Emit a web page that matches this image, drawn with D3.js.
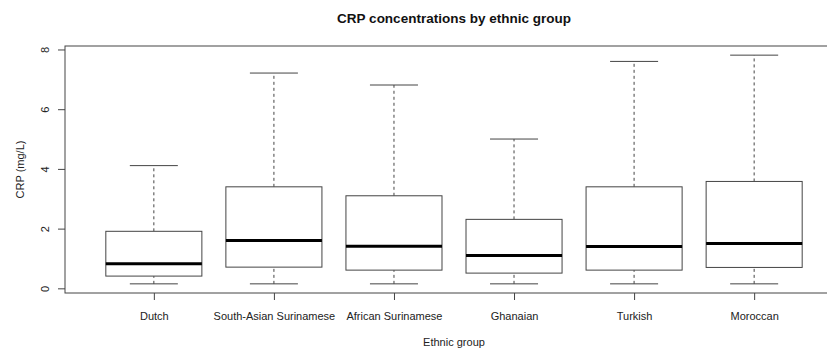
<!DOCTYPE html>
<html>
<head>
<meta charset="utf-8">
<script src="https://cdn.jsdelivr.net/npm/d3@7/dist/d3.min.js"></script>
<style>
  html, body { margin: 0; padding: 0; background: #fff; }
  svg { display: block; font-family: "Liberation Sans", Arial, sans-serif; }
</style>
</head>
<body>
<svg id="chart" width="827" height="348"></svg>
<script>
// Ethnic groups shown along the x axis
const groups = ["Dutch", "South-Asian Surinamese", "African Surinamese", "Ghanaian", "Turkish", "Moroccan"];
// Five-number summaries per group (mg/L)
const whiskerLow  = [0.15, 0.15, 0.15, 0.15, 0.15, 0.15];
const quartile1   = [0.41, 0.71, 0.61, 0.51, 0.61, 0.70];
const medians     = [0.82, 1.60, 1.41, 1.10, 1.40, 1.50];
const quartile3   = [1.91, 3.40, 3.10, 2.31, 3.40, 3.58];
const whiskerHigh = [4.11, 7.21, 6.81, 5.00, 7.60, 7.81];
const yTicks = [0, 2, 4, 6, 8];

const svg = d3.select("#chart");
const ink = "#444";

const plot = { left: 65, right: 843, top: 46, bottom: 293 };

// Group positions 1..n, with the usual 4% padding around 0.5..n+0.5
const n = groups.length;
const xPad = 0.04 * n;
const x = d3.scaleLinear()
  .domain([0.5 - xPad, n + 0.5 + xPad])
  .range([plot.left, plot.right]);

const yMin = d3.min(whiskerLow), yMax = d3.max(whiskerHigh);
const yPad = 0.04 * (yMax - yMin);
const y = d3.scaleLinear()
  .domain([yMin - yPad, yMax + yPad])
  .range([plot.bottom, plot.top]);

const boxW = x(1.4) - x(1);      // half of 0.8 box width
const capW = x(1.2) - x(1);      // half of 0.4 staple width

const data = groups.map((g, i) => ({
  name: g, pos: i + 1,
  lo: whiskerLow[i], q1: quartile1[i], med: medians[i], q3: quartile3[i], hi: whiskerHigh[i]
}));

const boxes = svg.append("g").selectAll("g").data(data).join("g");

// dashed whiskers
boxes.append("line")
  .attr("x1", d => x(d.pos)).attr("x2", d => x(d.pos))
  .attr("y1", d => y(d.q3)).attr("y2", d => y(d.hi))
  .attr("stroke", ink).attr("stroke-dasharray", "3,3");
boxes.append("line")
  .attr("x1", d => x(d.pos)).attr("x2", d => x(d.pos))
  .attr("y1", d => y(d.lo)).attr("y2", d => y(d.q1))
  .attr("stroke", ink).attr("stroke-dasharray", "3,3");

// staples
boxes.append("line")
  .attr("x1", d => x(d.pos) - capW).attr("x2", d => x(d.pos) + capW)
  .attr("y1", d => y(d.hi)).attr("y2", d => y(d.hi))
  .attr("stroke", ink);
boxes.append("line")
  .attr("x1", d => x(d.pos) - capW).attr("x2", d => x(d.pos) + capW)
  .attr("y1", d => y(d.lo)).attr("y2", d => y(d.lo))
  .attr("stroke", ink);

// interquartile boxes
boxes.append("rect")
  .attr("x", d => x(d.pos) - boxW).attr("width", 2 * boxW)
  .attr("y", d => y(d.q3)).attr("height", d => y(d.q1) - y(d.q3))
  .attr("fill", "#fff").attr("stroke", ink);

// medians
boxes.append("line")
  .attr("x1", d => x(d.pos) - boxW).attr("x2", d => x(d.pos) + boxW)
  .attr("y1", d => y(d.med)).attr("y2", d => y(d.med))
  .attr("stroke", "#000").attr("stroke-width", 3);

// frame around the plotting region
svg.append("rect")
  .attr("x", plot.left).attr("y", plot.top)
  .attr("width", plot.right - plot.left).attr("height", plot.bottom - plot.top)
  .attr("fill", "none").attr("stroke", ink);

// y axis: short outside ticks, labels parallel to the axis
const yAxis = svg.append("g").attr("transform", `translate(${plot.left},0)`)
  .call(d3.axisLeft(y).tickValues(yTicks).tickSize(7).tickPadding(0).tickFormat(d3.format("d")));
yAxis.select(".domain").remove();
yAxis.selectAll(".tick line").attr("stroke", ink);
yAxis.selectAll(".tick text")
  .attr("x", null).attr("dy", null)
  .attr("text-anchor", "middle")
  .attr("transform", "translate(-20,0) rotate(-90)")
  .attr("dy", "0.35em")
  .attr("font-size", 11).attr("fill", "#222")
  .style("font-family", "'Liberation Sans', Arial, sans-serif");

// x axis: ticks at each group
const xAxis = svg.append("g").attr("transform", `translate(0,${plot.bottom})`)
  .call(d3.axisBottom(x).tickValues(data.map(d => d.pos)).tickSize(7).tickPadding(12)
    .tickFormat((d, i) => groups[i]));
xAxis.select(".domain").remove();
xAxis.selectAll(".tick line").attr("stroke", ink);
xAxis.selectAll(".tick text")
  .attr("font-size", 11).attr("fill", "#222")
  .style("font-family", "'Liberation Sans', Arial, sans-serif");

// title and axis titles
const midX = (plot.left + plot.right) / 2;
svg.append("text")
  .attr("x", midX).attr("y", 23)
  .attr("text-anchor", "middle")
  .attr("font-size", 13.5).attr("font-weight", "bold").attr("fill", "#111")
  .text("CRP concentrations by ethnic group");

svg.append("text")
  .attr("x", midX).attr("y", 346)
  .attr("text-anchor", "middle")
  .attr("font-size", 11).attr("fill", "#222")
  .text("Ethnic group");

svg.append("text")
  .attr("transform", `translate(24,${(plot.top + plot.bottom) / 2}) rotate(-90)`)
  .attr("text-anchor", "middle")
  .attr("font-size", 11).attr("fill", "#222")
  .text("CRP (mg/L)");
</script>
</body>
</html>
